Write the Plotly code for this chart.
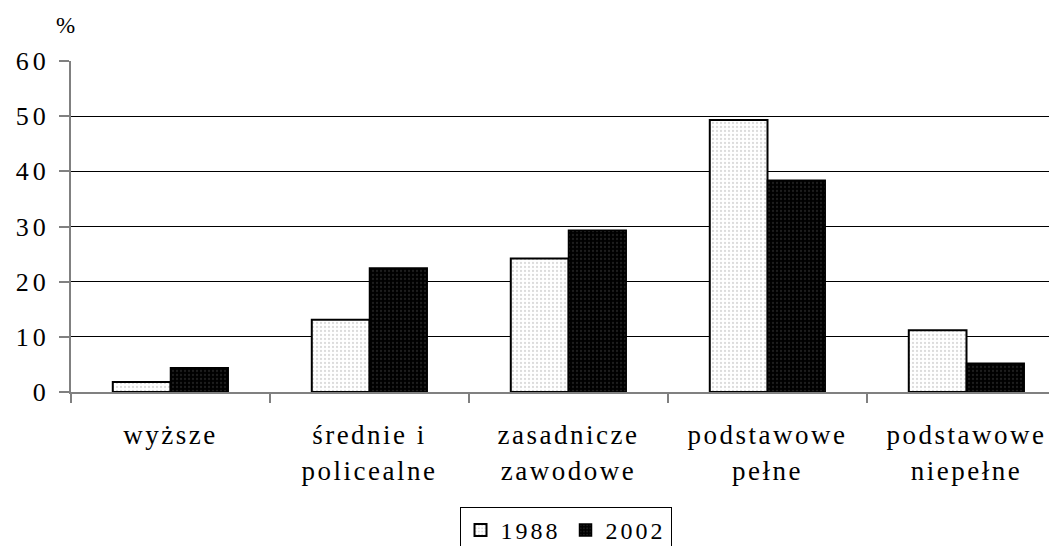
import plotly.graph_objects as go

categories = ["wyższe", "średnie i<br>policealne", "zasadnicze<br>zawodowe", "podstawowe<br>pełne", "podstawowe<br>niepełne"]
values_1988 = [1.8, 13.1, 24.2, 49.3, 11.2]
values_2002 = [4.4, 22.5, 29.3, 38.4, 5.2]
y_ticks = [0, 10, 20, 30, 40, 50, 60]
series_names = ["1988", "2002"]

FONT = "Liberation Serif, Times New Roman, serif"


def spaced(s, px=3.5):
    return f'<span style="letter-spacing:{px}px">{s}</span>'


x_labels = ["<br>".join(spaced(part, 2.5) for part in c.split("<br>")) for c in categories]

fig = go.Figure()
fig.add_trace(go.Bar(
    name=spaced(series_names[0], 3), x=categories, y=values_1988,
    marker=dict(color="white", line=dict(color="black", width=2),
                pattern=dict(shape=".", bgcolor="white", fgcolor="#b8b8b8", size=4, solidity=0.25)),
))
fig.add_trace(go.Bar(
    name=spaced(series_names[1], 3), x=categories, y=values_2002,
    marker=dict(color="black", line=dict(color="black", width=1.5),
                pattern=dict(shape=".", bgcolor="black", fgcolor="#3a3a3a", size=4, solidity=0.25)),
))

# the page adds an 8px body margin, so the figure is offset by 8px right and down
fig.update_layout(
    width=1058, height=546,
    margin=dict(l=63, r=0, t=53, b=162, autoexpand=False),
    paper_bgcolor="white", plot_bgcolor="white",
    barmode="group", bargap=0.42, bargroupgap=0,
    font=dict(family=FONT, size=25, color="black"),
    showlegend=True,
    legend=dict(orientation="h", x=0.497, xanchor="center", y=-0.347, yanchor="top",
                bordercolor="black", borderwidth=1, font=dict(size=24, family=FONT),
                itemwidth=30, traceorder="normal", tracegroupgap=0),
    annotations=[dict(text="%", xref="paper", yref="paper", x=-0.017, y=1.106,
                      xanchor="left", yanchor="middle", showarrow=False,
                      font=dict(size=23, family=FONT))],
)
fig.update_xaxes(
    range=[-0.5, 4.5], showline=True, linecolor="#808080", linewidth=2,
    tickvals=categories, ticktext=x_labels,
    ticks="outside", tickson="boundaries", ticklen=9, tickcolor="#808080", tickwidth=1.5,
    ticklabelstandoff=18,
    showgrid=False, tickfont=dict(size=27, family=FONT), fixedrange=True,
)
fig.update_yaxes(
    range=[0, 60], tickvals=y_ticks, ticktext=[spaced(str(v), 4) for v in y_ticks],
    showline=True, linecolor="#808080", linewidth=2,
    ticks="outside", ticklen=10, tickcolor="#808080", tickwidth=1.5,
    ticklabelstandoff=4,
    showgrid=True, gridcolor="black", gridwidth=1,
    tickfont=dict(size=26, family=FONT), zeroline=False,
)

fig.write_html("out.html")
